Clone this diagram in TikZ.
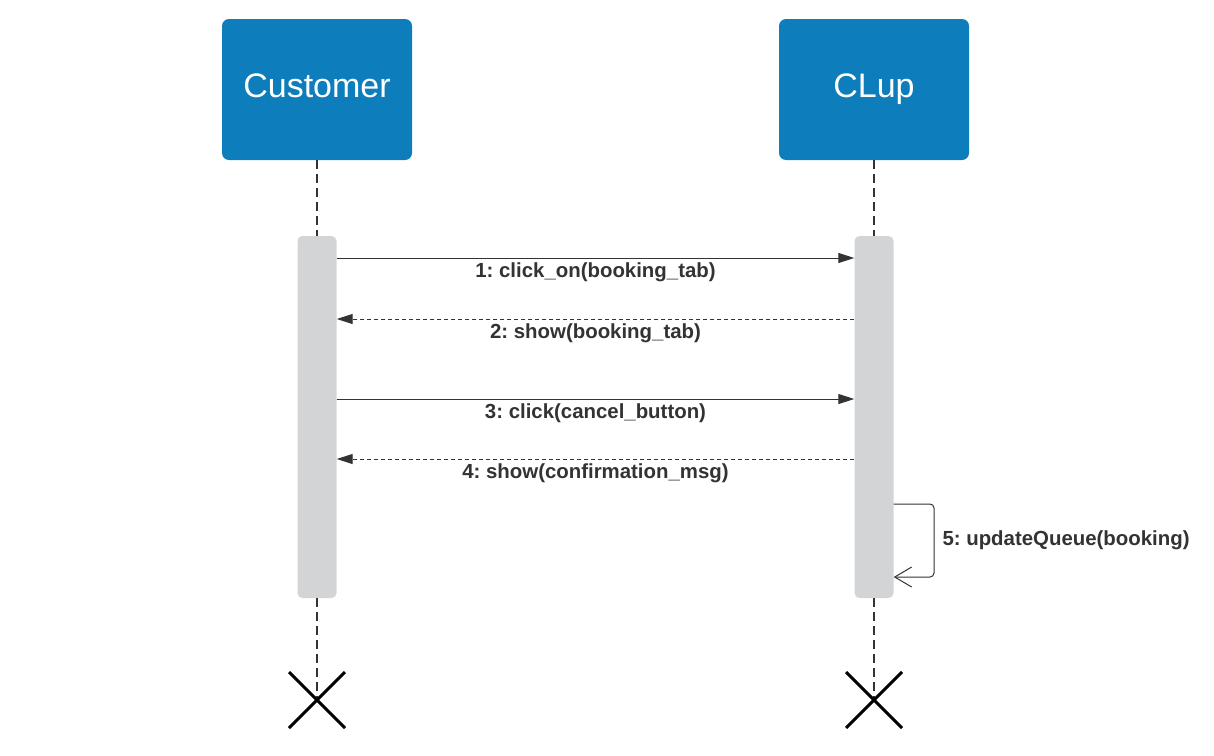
\documentclass[tikz,border=0pt]{standalone}
\usepackage{fontspec}
\setmainfont{Liberation Sans}
\usetikzlibrary{arrows.meta,positioning}
\definecolor{lcblue}{HTML}{0E7DBB}
\definecolor{actgray}{HTML}{D3D4D6}
\definecolor{ink}{HTML}{333333}
\frenchspacing

\begin{document}
\begin{tikzpicture} [
	x=1pt, y=-1pt,
	actor/.style = {fill=lcblue, rounded corners=7pt, minimum width=190pt, minimum height=141pt, text=white, text height=25pt, text depth=10pt, font=\fontsize{34}{40}\selectfont},
	activation/.style = {fill=actgray, rounded corners=5pt, minimum width=39pt, minimum height=362pt, inner sep=0},
	lifeline/.style = {ink, line width=1.2pt, dash pattern=on 9pt off 5pt},
	call/.style = {ink, line width=1pt, -{Triangle[length=16pt,width=10pt]}},
	reply/.style = {call, dash pattern=on 4pt off 3pt},
	selfcall/.style = {ink, line width=1pt, rounded corners=4pt, -{Straight Barb[length=17pt,width=20pt]}},
	msg/.style = {text=ink, font=\fontsize{20.4}{24}\selectfont\bfseries, inner sep=0},
	destroy/.style = {black, line width=3pt},
]
\useasboundingbox (0,0) rectangle (1214,755);

\node [actor] (customer) at (317,89.5) {Customer};
\node [actor] (clup) at (874,89.5) {CLup};
\node [activation] (custact) at (317,417) {};
\node [activation] (clupact) at (874,417) {};
\coordinate (custend) at (317,700);
\coordinate (clupend) at (874,700);

\draw [lifeline] (customer) -- (custact);
\draw [lifeline] (clup) -- (clupact);
\draw [lifeline] (custact) -- (custend);
\draw [lifeline] (clupact) -- (clupend);

\coordinate (m1) at (0,258);
\coordinate (m2) at (0,319);
\coordinate (m3) at (0,399);
\coordinate (m4) at (0,459);
\coordinate (m5top) at (934,504);
\coordinate (m5bot) at (934,577);

\draw [call] (custact.east |- m1) -- (clupact.west |- m1)
	node [msg, midway, below=4pt] {1: click\_on(booking\_tab)};
\draw [reply] (clupact.west |- m2) -- (custact.east |- m2)
	node [msg, midway, below=4pt] {2: show(booking\_tab)};
\draw [call] (custact.east |- m3) -- (clupact.west |- m3)
	node [msg, midway, below=4pt] {3: click(cancel\_button)};
\draw [reply] (clupact.west |- m4) -- (custact.east |- m4)
	node [msg, midway, below=4pt] {4: show(confirmation\_msg)};
\draw [selfcall] (clupact.east |- m5top) -- (m5top)
	-- node [msg, right=8pt] {5: updateQueue(booking)} (m5bot) -- (clupact.east |- m5bot);

\draw [destroy] (custend) +(-28,-28) -- +(28,28) +(-28,28) -- +(28,-28);
\draw [destroy] (clupend) +(-28,-28) -- +(28,28) +(-28,28) -- +(28,-28);
\end{tikzpicture}
\end{document}
